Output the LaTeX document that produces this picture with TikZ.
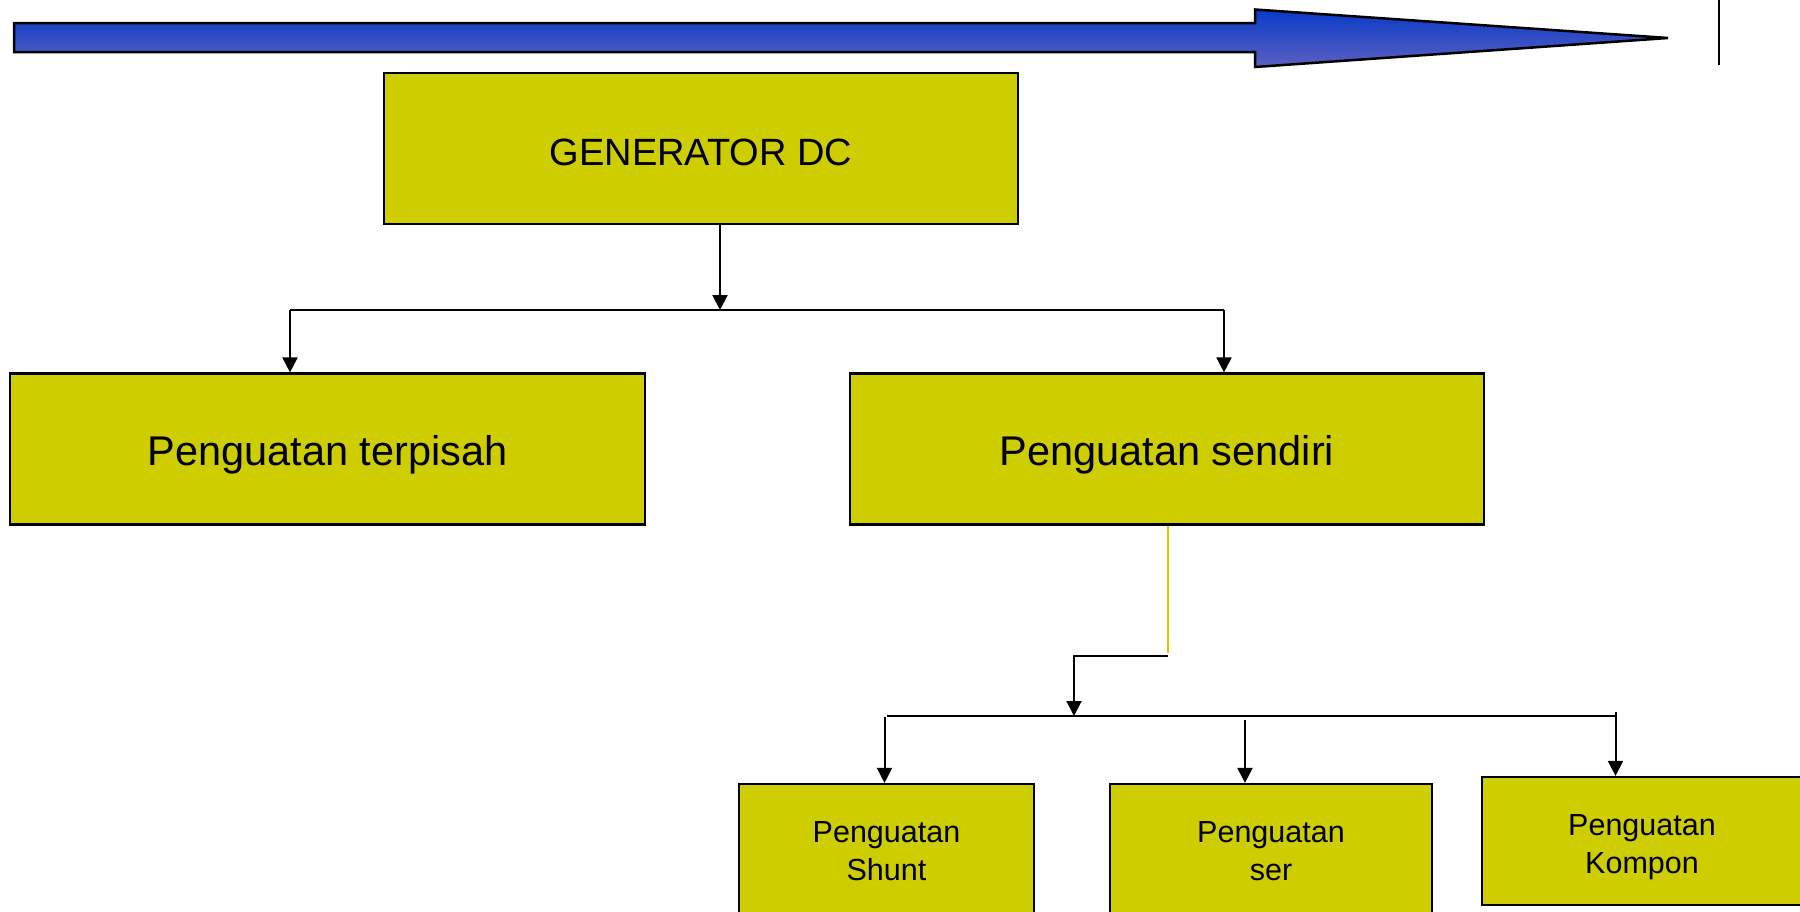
\documentclass[tikz,border=0pt]{standalone}
\usepackage{fontspec}
\setmainfont{Liberation Sans}
\usetikzlibrary{arrows.meta}
\definecolor{boxyellow}{RGB}{205,205,0}
\definecolor{arrowtop}{RGB}{8,58,200}
\definecolor{arrowbot}{RGB}{92,96,192}
\newcommand{\lowertext}[2]{\raisebox{-#1}[\height][\depth]{#2}}
\newcommand{\twolines}[2]{\begin{tabular}{@{}c@{}}#1\\#2\end{tabular}}
\begin{document}
\begin{tikzpicture}[x=1pt,y=-1pt,
  box/.style={draw=black,line width=2.2pt,fill=boxyellow,inner sep=0pt},
  bigtext/.style={font=\fontsize{41.5}{48}\selectfont},
  smalltext/.style={font=\fontsize{30.5}{37.5}\selectfont},
  conn/.style={line width=2pt,draw=black},
  arr/.style={conn,-{Triangle[width=15pt,length=15pt]}}]
\useasboundingbox (0,0) rectangle (1800,911);
\begin{scope}
\clip (0,0) rectangle (1800,911);
% big blue arrow
\shade[top color=arrowtop,bottom color=arrowbot,draw=black,line width=2.5pt,line join=miter]
  (14,23) -- (1255,23) -- (1255,9.5) -- (1668,38) -- (1255,67) -- (1255,52) -- (14,52) -- cycle;
\draw[line width=1.6pt] (1719,0) -- (1719,65);
% boxes
\node[box,minimum width=634pt,minimum height=151pt,font=\fontsize{38}{44}\selectfont] (gen) at (701,148.5) {\lowertext{4pt}{GENERATOR DC}};
\node[box,bigtext,minimum width=635pt,minimum height=151pt] (sep) at (327.5,449) {\lowertext{6pt}{Penguatan terpisah}};
\node[box,bigtext,minimum width=634pt,minimum height=151pt] (self) at (1167,449) {\lowertext{6pt}{Penguatan sendiri}};
\node[box,smalltext,minimum width=295pt,minimum height=132pt] (shunt) at (886.5,850) {\lowertext{4pt}{\twolines{Penguatan}{Shunt}}};
\node[box,smalltext,minimum width=322pt,minimum height=132pt] (ser) at (1271,850) {\lowertext{4pt}{\twolines{Penguatan}{ser}}};
\node[box,smalltext,minimum width=320pt,minimum height=128pt] (komp) at (1642,841) {\lowertext{6pt}{\twolines{Penguatan}{Kompon}}};
% first level connectors
\coordinate (j1) at (720,310);
\coordinate (hl) at (290,310);
\coordinate (hr) at (1224,310);
\draw[arr] (gen.south -| j1) -- (j1);
\draw[conn] (hl) -- (hr);
\draw[arr] (hl) -- (sep.north -| hl);
\draw[arr] (hr) -- (self.north -| hr);
% second level connectors
\coordinate (y1) at (1168,653);
\coordinate (b1) at (1168,656);
\coordinate (j2) at (1074,716);
\coordinate (h2l) at (887,716);
\coordinate (h2r) at (1615.5,716);
\coordinate (a1) at (884.5,717);
\coordinate (a2) at (1245,720);
\coordinate (a3) at (1615.5,712);
\draw[line width=2.6pt,boxyellow] (self.south -| y1) -- (y1);
\draw[arr] (b1) -- (b1 -| j2) -- (j2);
\draw[conn] (h2l) -- (h2r);
\draw[arr] (a1) -- (shunt.north -| a1);
\draw[arr] (a2) -- (ser.north -| a2);
\draw[arr] (a3) -- (komp.north -| a3);
\end{scope}
\end{tikzpicture}
\end{document}
